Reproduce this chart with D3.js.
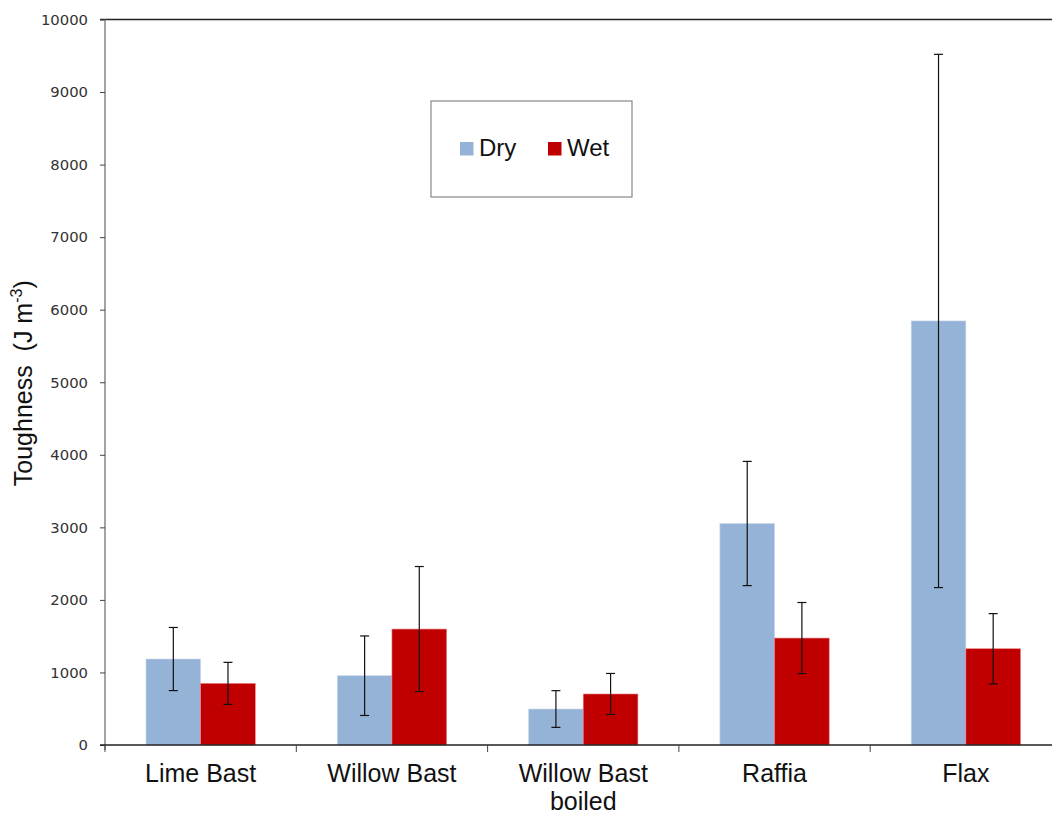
<!DOCTYPE html>
<html><head><meta charset="utf-8">
<script src="https://cdn.jsdelivr.net/npm/d3@7"></script>
<style>body{margin:0;background:#fff}svg{display:block}</style>
</head><body>
<script>
const categories = [["Lime Bast"],["Willow Bast"],["Willow Bast","boiled"],["Raffia"],["Flax"]];
const seriesNames = ["Dry","Wet"];
const dryValues = [1185, 955, 496, 3053, 5845];
const dryErrors = [435, 548, 253, 856, 3675];
const wetValues = [849, 1598, 703, 1474, 1327];
const wetErrors = [290, 862, 283, 490, 484];
const yTicks = [0,1000,2000,3000,4000,5000,6000,7000,8000,9000,10000];
const colors = ["#95B3D7","#C00000"];

(function(){
const W=1052,H=816;
const svg=d3.select("body").append("svg").attr("width",W).attr("height",H);
const pL=105, pR=1061.5, pT=19.5, pB=745;
const x0=d3.scaleBand().domain(d3.range(categories.length)).range([pL,pR]).padding(0);
const bw=x0.bandwidth()/3.5;
const x1=d3.scaleBand().domain(seriesNames).range([0,2*bw]);
const y=d3.scaleLinear().domain([0,10000]).range([pB,pT]);

const data=[dryValues.map((v,i)=>({s:"Dry",i,v,e:dryErrors[i]})), wetValues.map((v,i)=>({s:"Wet",i,v,e:wetErrors[i]}))];

svg.append("line").attr("x1",pL-5).attr("x2",W).attr("y1",pT).attr("y2",pT).attr("stroke","#222").attr("stroke-width",1.3);

const g=svg.append("g");
data.forEach((ser,si)=>{
  g.selectAll(null).data(ser).enter().append("rect")
    .attr("x",d=>x0(d.i)+x0.bandwidth()/2-bw+x1(d.s))
    .attr("y",d=>y(d.v)).attr("width",x1.bandwidth()).attr("height",d=>pB-y(d.v))
    .attr("fill",colors[si]).attr("stroke",si==0?"#c9d8ea":"#e88080").attr("stroke-width",0.6);
});
data.forEach((ser)=>{
  ser.forEach(d=>{
    const cx=x0(d.i)+x0.bandwidth()/2-bw+x1(d.s)+x1.bandwidth()/2;
    const e=g.append("g").attr("stroke","#111").attr("stroke-width",1.2);
    e.append("line").attr("x1",cx).attr("x2",cx).attr("y1",y(d.v+d.e)).attr("y2",y(d.v-d.e));
    e.append("line").attr("x1",cx-4.5).attr("x2",cx+4.5).attr("y1",y(d.v+d.e)).attr("y2",y(d.v+d.e));
    e.append("line").attr("x1",cx-4.5).attr("x2",cx+4.5).attr("y1",y(d.v-d.e)).attr("y2",y(d.v-d.e));
  });
});

const ya=svg.append("g").attr("transform",`translate(${pL},0)`)
  .call(d3.axisLeft(y).tickValues(yTicks).tickSize(5).tickPadding(12).tickFormat(d3.format("d")));
ya.select(".domain").attr("stroke","#868686").attr("stroke-width",1.5).attr("d",`M0,${pT}V${pB+5}`);
ya.selectAll(".tick line").attr("stroke","#444");
ya.selectAll(".tick text").attr("font-family","Verdana, DejaVu Sans, sans-serif").attr("font-size",14.8).attr("fill","#333");

const xa=svg.append("g").attr("transform",`translate(0,${pB})`);
xa.append("line").attr("x1",pL-5).attr("x2",W).attr("stroke","#222").attr("stroke-width",1.3);
xa.selectAll(null).data(d3.range(categories.length+1)).enter().append("line")
  .attr("x1",d=>pL+d*x0.step()).attr("x2",d=>pL+d*x0.step()).attr("y1",0).attr("y2",7).attr("stroke","#444");
categories.forEach((c,i)=>{
  const t=xa.append("text").attr("x",x0(i)+x0.bandwidth()/2).attr("y",37).attr("text-anchor","middle")
    .attr("font-family","Arial, Liberation Sans, sans-serif").attr("font-size",25).attr("fill","#111");
  c.forEach((line,k)=>t.append("tspan").attr("x",x0(i)+x0.bandwidth()/2).attr("dy",k==0?0:28).text(line));
});

const yt=svg.append("text").attr("transform",`translate(32,${(pT+pB)/2+1}) rotate(-90)`).attr("text-anchor","middle")
  .style("white-space","pre")
  .attr("font-family","Arial, Liberation Sans, sans-serif").attr("font-size",25).attr("fill","#111");
yt.append("tspan").text("Toughness  (J m");
yt.append("tspan").attr("font-size",16).attr("dy",-10).text("-3");
yt.append("tspan").attr("dy",10).text(")");

const lg=svg.append("g");
lg.append("rect").attr("x",431).attr("y",101).attr("width",201).attr("height",96).attr("fill","#fff").attr("stroke","#888").attr("stroke-width",1.2);
const lx=[460,548];
seriesNames.forEach((s,i)=>{
  lg.append("rect").attr("x",lx[i]).attr("y",142).attr("width",13.5).attr("height",13.5).attr("fill",colors[i]);
  lg.append("text").attr("x",lx[i]+19).attr("y",156).attr("font-family","Arial, Liberation Sans, sans-serif").attr("font-size",24).attr("fill","#111").text(s);
});
})();
</script>
</body></html>
